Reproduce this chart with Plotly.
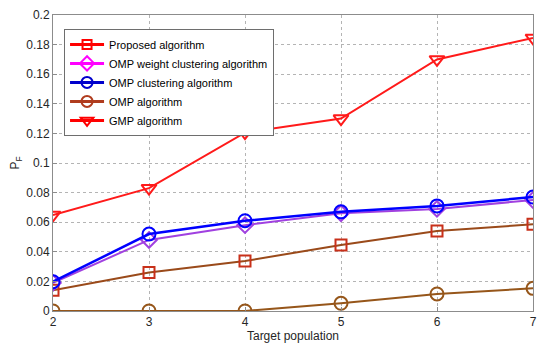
import plotly.graph_objects as go

x_vals = [2, 3, 4, 5, 6, 7]
proposed = [0.014, 0.026, 0.0338, 0.0446, 0.054, 0.0586]
omp_weight = [0.019, 0.048, 0.058, 0.066, 0.069, 0.075]
omp_cluster = [0.0198, 0.052, 0.061, 0.067, 0.071, 0.077]
omp = [0.0, 0.0, 0.0, 0.0052, 0.0115, 0.0153]
gmp = [0.0649, 0.083, 0.1205, 0.130, 0.170, 0.1845]

names = ["Proposed algorithm", "OMP weight clustering algorithm",
         "OMP clustering algorithm", "OMP algorithm", "GMP algorithm"]
y_ticks = [0, 0.02, 0.04, 0.06, 0.08, 0.1, 0.12, 0.14, 0.16, 0.18, 0.2]
y_tick_text = ["0", "0.02", "0.04", "0.06", "0.08", "0.1", "0.12", "0.14", "0.16", "0.18", "0.2"]

fig = go.Figure()

fig.add_trace(go.Scatter(x=x_vals, y=gmp, mode="lines+markers", showlegend=False,
                         line=dict(color="#ff1a1a", width=2),
                         marker=dict(symbol="triangle-down-open", size=13, color="#ff1a1a", line=dict(width=2))))
fig.add_trace(go.Scatter(x=x_vals, y=omp, mode="lines+markers", showlegend=False,
                         line=dict(color="#96561a", width=2),
                         marker=dict(symbol="circle-open", size=13, color="#96561a", line=dict(width=2))))
fig.add_trace(go.Scatter(x=x_vals, y=proposed, mode="lines+markers", showlegend=False,
                         line=dict(color="#9a4a1a", width=2),
                         marker=dict(symbol="square-open", size=11, color="#c8301a", line=dict(width=2))))
fig.add_trace(go.Scatter(x=x_vals, y=omp_weight, mode="lines+markers", showlegend=False,
                         line=dict(color="#a040e0", width=2),
                         marker=dict(symbol="diamond-open", size=12, color="#a040e0", line=dict(width=2))))
fig.add_trace(go.Scatter(x=x_vals, y=omp_cluster, mode="lines+markers", showlegend=False,
                         line=dict(color="#0000ff", width=2.5),
                         marker=dict(symbol="circle-open", size=13, color="#0000ff", line=dict(width=2))))

leg_styles = [
    ("#ff0000", "square-open", 9),
    ("#ff00ff", "diamond-open", 11),
    ("#0000cc", "circle-open", 11),
    ("#b03c1e", "circle-open", 11),
    ("#ff0000", "triangle-down-open", 11),
]
for name, (c, sym, sz) in zip(names, leg_styles):
    fig.add_trace(go.Scatter(x=[None], y=[None], mode="lines+markers", name=name,
                             line=dict(color=c, width=3),
                             marker=dict(symbol=sym, size=sz, color=c, line=dict(width=2))))

axis_common = dict(
    showline=True, linecolor="#8c8c8c", linewidth=1, mirror=True,
    ticks="inside", ticklen=4, tickcolor="#8c8c8c",
    showgrid=True, gridcolor="#b4b4b4", griddash="dot", gridwidth=1,
    zeroline=False, tickfont=dict(size=12, color="#262626"), automargin=False,
)

# page body has an 8px default margin, so the figure is sized/offset to compensate
fig.update_layout(
    width=542, height=340,
    margin=dict(l=45, r=17, t=7, b=37),
    paper_bgcolor="white", plot_bgcolor="white",
    font=dict(family="Liberation Sans, Arial, sans-serif", size=12, color="#262626"),
    xaxis=dict(range=[2, 7], tickvals=x_vals, title=dict(text="Target population", standoff=2, font=dict(size=12)),
               **axis_common),
    yaxis=dict(range=[0, 0.2], tickvals=y_ticks, ticktext=y_tick_text,
               title=dict(text="P<sub>F</sub>", standoff=6, font=dict(size=12)), **axis_common),
    legend=dict(x=0.023, y=0.953, xanchor="left", yanchor="top",
                bgcolor="white", bordercolor="#6e6e6e", borderwidth=1,
                font=dict(size=11, color="#000000"), tracegroupgap=0, itemwidth=34),
)

fig.write_html("out.html")
